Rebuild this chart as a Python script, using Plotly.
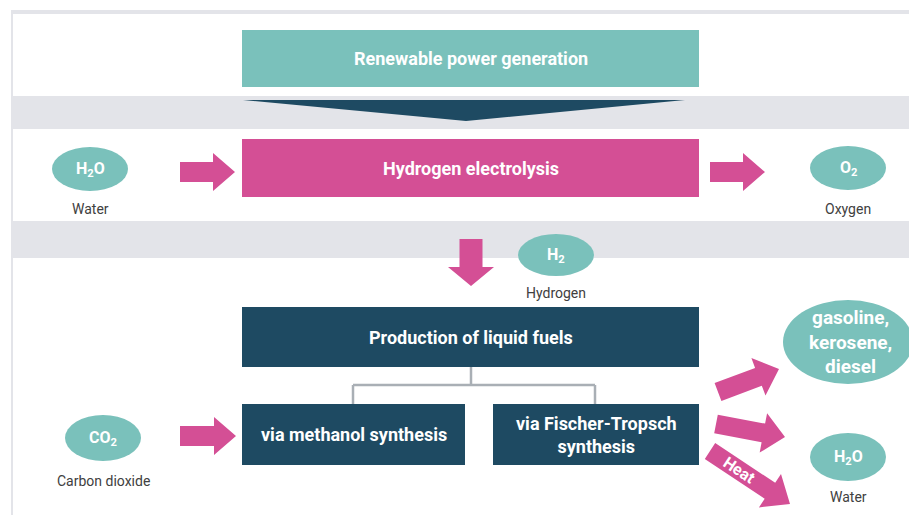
import math
import plotly.graph_objects as go

# ---- diagram content ----
box_labels = ["Renewable power generation", "Hydrogen electrolysis",
              "Production of liquid fuels", "via methanol synthesis",
              "via Fischer-Tropsch<br>synthesis"]
box_colors = ["#7AC1BB", "#D44F95", "#1E4A62", "#1E4A62", "#1E4A62"]
box_x0 = [242, 242, 242, 242, 493]
box_x1 = [699, 699, 699, 465, 699]
box_y0 = [30, 139, 307, 404, 404]
box_y1 = [87, 197, 367, 465, 465]

oval_labels = ["H<sub>2</sub>O", "O<sub>2</sub>", "H<sub>2</sub>", "CO<sub>2</sub>",
               "gasoline,<br>kerosene,<br>diesel", "H<sub>2</sub>O"]
oval_captions = ["Water", "Oxygen", "Hydrogen", "Carbon dioxide", "", "Water"]
oval_cx = [90, 848, 556, 103, 848, 848]
oval_cy = [169, 168, 255, 438, 342, 457]
oval_rx = [38, 38, 38, 38, 65, 38]
oval_ry = [22, 22, 21, 23, 42, 24]
caption_y = [209, 209, 293, 481, 0, 497]

# arrows: tail point, tip point
arrow_tail = [(180, 172), (710, 172), (471, 239), (180, 436), (718, 392), (716, 424), (710, 451)]
arrow_tip = [(235, 172), (765, 172), (471, 286), (236, 436), (779, 369), (785, 437), (790, 504)]
arrow_shaft = [20, 20, 23, 20, 19, 19, 19]
arrow_head = [38, 38, 46, 38, 40, 40, 40]
arrow_headlen = [22, 22, 19, 22, 22, 22, 24]

TEAL = "#7AC1BB"
PINK = "#D44F95"
NAVY = "#1E4A62"
BAND = "#E3E4E9"
LINE = "#A9AFB5"
FONT = "Roboto"

shapes = []
annotations = []

# frame
shapes.append(dict(type="rect", x0=11, x1=909, y0=10, y1=14, fillcolor=BAND, line_width=0, layer="below"))
shapes.append(dict(type="rect", x0=11, x1=13, y0=10, y1=515, fillcolor=BAND, line_width=0, layer="below"))
# grey bands
for (a, b) in [(96, 129), (221, 258)]:
    shapes.append(dict(type="rect", x0=13, x1=909, y0=a, y1=b, fillcolor=BAND, line_width=0, layer="below"))

# chevron under renewable box
shapes.append(dict(type="path", path="M 243 100 L 685 100 L 466 121 Z", fillcolor=NAVY, line_width=0))

# connector lines
for (xa, ya, xb, yb) in [(471, 367, 471, 385), (353, 385, 595, 385), (353, 385, 353, 404), (595, 385, 595, 404)]:
    shapes.append(dict(type="line", x0=xa, y0=ya, x1=xb, y1=yb, line=dict(color=LINE, width=2.5)))

# boxes
for lab, c, x0, x1, y0, y1 in zip(box_labels, box_colors, box_x0, box_x1, box_y0, box_y1):
    shapes.append(dict(type="rect", x0=x0, x1=x1, y0=y0, y1=y1, fillcolor=c, line_width=0))
    annotations.append(dict(x=(x0 + x1) / 2, y=(y0 + y1) / 2, text="<b>" + lab + "</b>", showarrow=False,
                            font=dict(family=FONT, size=18, color="white"), xanchor="center", yanchor="middle"))

# ovals
for i, (lab, cap) in enumerate(zip(oval_labels, oval_captions)):
    cx, cy, rx, ry = oval_cx[i], oval_cy[i], oval_rx[i], oval_ry[i]
    shapes.append(dict(type="circle", x0=cx - rx, x1=cx + rx, y0=cy - ry, y1=cy + ry, fillcolor=TEAL, line_width=0))
    big = rx > 50
    annotations.append(dict(x=cx + (2 if big else 0), y=cy, text="<b>" + lab + "</b>", showarrow=False,
                            font=dict(family=FONT, size=19 if big else 16, color="white"),
                            xanchor="center", yanchor="middle"))
    if cap:
        annotations.append(dict(x=cx, y=caption_y[i], text=cap, showarrow=False,
                                font=dict(family=FONT, size=14, color="#404040"),
                                xanchor="center", yanchor="middle"))

# arrows
def arrow_path(tail, tip, sw, hw, hl):
    x0, y0 = tail
    x1, y1 = tip
    L = math.hypot(x1 - x0, y1 - y0)
    ux, uy = (x1 - x0) / L, (y1 - y0) / L
    nx, ny = -uy, ux
    bx, by = x1 - ux * hl, y1 - uy * hl
    pts = [
        (x0 + nx * sw / 2, y0 + ny * sw / 2),
        (bx + nx * sw / 2, by + ny * sw / 2),
        (bx + nx * hw / 2, by + ny * hw / 2),
        (x1, y1),
        (bx - nx * hw / 2, by - ny * hw / 2),
        (bx - nx * sw / 2, by - ny * sw / 2),
        (x0 - nx * sw / 2, y0 - ny * sw / 2),
    ]
    return "M " + " L ".join(f"{px:.1f} {py:.1f}" for px, py in pts) + " Z"

for t, p, sw, hw, hl in zip(arrow_tail, arrow_tip, arrow_shaft, arrow_head, arrow_headlen):
    shapes.append(dict(type="path", path=arrow_path(t, p, sw, hw, hl), fillcolor=PINK, line_width=0))

# Heat label on the last arrow
ht, hp = arrow_tail[-1], arrow_tip[-1]
ang = math.degrees(math.atan2(hp[1] - ht[1], hp[0] - ht[0]))
annotations.append(dict(x=ht[0] + (hp[0] - ht[0]) * 0.37, y=ht[1] + (hp[1] - ht[1]) * 0.37, text="<b>Heat</b>",
                        showarrow=False, textangle=ang, font=dict(family=FONT, size=16, color="white"),
                        xanchor="center", yanchor="middle"))

fig = go.Figure()
fig.add_trace(go.Scatter(x=[0, 909], y=[0, 515], mode="markers", marker=dict(opacity=0), hoverinfo="skip",
                         showlegend=False))
fig.update_layout(
    width=909, height=515,
    margin=dict(l=0, r=0, t=0, b=0),
    paper_bgcolor="white", plot_bgcolor="white",
    xaxis=dict(range=[0, 909], visible=False, fixedrange=True),
    yaxis=dict(range=[515, 0], visible=False, fixedrange=True),
    shapes=shapes, annotations=annotations, showlegend=False,
)
fig.write_html("out.html", config={"displayModeBar": False},
               post_script="document.body.style.margin='0';document.body.style.overflow='hidden';")
